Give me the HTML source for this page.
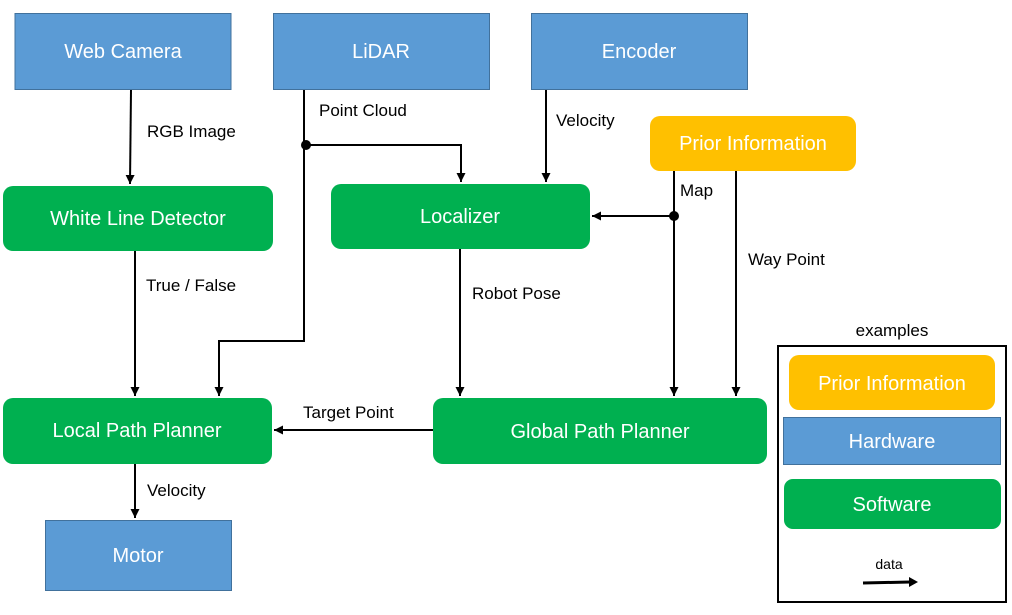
<!DOCTYPE html>
<html><head><meta charset="utf-8"><style>
html,body{margin:0;padding:0;background:#fff;}
svg{display:block;}
text{font-family:"Liberation Sans",sans-serif;}
.bl{fill:#fff;font-size:20px;text-anchor:middle;dominant-baseline:central;}
.lb{fill:#000;font-size:17px;}
.ln{stroke:#000;stroke-width:2;fill:none;}
</style></head><body>
<svg width="1012" height="615" viewBox="0 0 1012 615" xmlns="http://www.w3.org/2000/svg">
<defs>
<marker id="a" markerWidth="12" markerHeight="12" refX="9" refY="4.5" orient="auto" markerUnits="userSpaceOnUse">
<path d="M0,0 L9,4.5 L0,9 z" fill="#000"/></marker>
</defs>
<rect x="15" y="13.5" width="216" height="76" fill="#5b9bd5" stroke="#41719c"/>
<text class="bl" x="123" y="52">Web Camera</text>
<rect x="273.5" y="13.5" width="216" height="76" fill="#5b9bd5" stroke="#41719c"/>
<text class="bl" x="381" y="52">LiDAR</text>
<rect x="531.5" y="13.5" width="216" height="76" fill="#5b9bd5" stroke="#41719c"/>
<text class="bl" x="639" y="52">Encoder</text>
<rect x="45.5" y="520.5" width="186" height="70" fill="#5b9bd5" stroke="#41719c"/>
<text class="bl" x="138" y="556">Motor</text>
<rect x="650" y="116" width="206" height="55" rx="10" fill="#ffc000"/>
<text class="bl" x="753" y="144">Prior Information</text>
<rect x="3" y="186" width="270" height="65" rx="10" fill="#00b050"/>
<text class="bl" x="138" y="219">White Line Detector</text>
<rect x="331" y="184" width="259" height="65" rx="10" fill="#00b050"/>
<text class="bl" x="460" y="217">Localizer</text>
<rect x="3" y="398" width="269" height="66" rx="10" fill="#00b050"/>
<text class="bl" x="137" y="431">Local Path Planner</text>
<rect x="433" y="398" width="334" height="66" rx="10" fill="#00b050"/>
<text class="bl" x="600" y="432">Global Path Planner</text>
<path class="ln" d="M131,90 L130,184" marker-end="url(#a)"/>
<text class="lb" x="147" y="137">RGB Image</text>
<path class="ln" d="M304,90 L304,341 L219,341 L219,396" marker-end="url(#a)"/>
<circle cx="306" cy="145" r="5" fill="#000"/>
<path class="ln" d="M306,145 L461,145 L461,182" marker-end="url(#a)"/>
<text class="lb" x="319" y="116">Point Cloud</text>
<path class="ln" d="M546,90 L546,182" marker-end="url(#a)"/>
<text class="lb" x="556" y="126">Velocity</text>
<path class="ln" d="M674,171 L674,396" marker-end="url(#a)"/>
<circle cx="674" cy="216" r="5" fill="#000"/>
<path class="ln" d="M674,216 L592,216" marker-end="url(#a)"/>
<text class="lb" x="680" y="196">Map</text>
<path class="ln" d="M736,171 L736,396" marker-end="url(#a)"/>
<text class="lb" x="748" y="265">Way Point</text>
<path class="ln" d="M135,251 L135,396" marker-end="url(#a)"/>
<text class="lb" x="146" y="291">True / False</text>
<path class="ln" d="M460,249 L460,396" marker-end="url(#a)"/>
<text class="lb" x="472" y="299">Robot Pose</text>
<path class="ln" d="M433,430 L274,430" marker-end="url(#a)"/>
<text class="lb" x="303" y="418">Target Point</text>
<path class="ln" d="M135,464 L135,518" marker-end="url(#a)"/>
<text class="lb" x="147" y="496">Velocity</text>
<text class="lb" x="892" y="336" text-anchor="middle">examples</text>
<rect x="778" y="346" width="228" height="256" fill="none" stroke="#000" stroke-width="2"/>
<rect x="789" y="355" width="206" height="55" rx="10" fill="#ffc000"/>
<text class="bl" x="892" y="384">Prior Information</text>
<rect x="783.5" y="417.5" width="217" height="47" fill="#5b9bd5" stroke="#41719c"/>
<text class="bl" x="892" y="442">Hardware</text>
<rect x="784" y="479" width="217" height="50" rx="9" fill="#00b050"/>
<text class="bl" x="892" y="505">Software</text>
<text x="889" y="569" font-size="14" text-anchor="middle">data</text>
<path d="M863,583 L910,582" stroke="#000" stroke-width="3"/>
<path d="M909,577 L918,582 L909,587 z" fill="#000"/>
</svg>
</body></html>
